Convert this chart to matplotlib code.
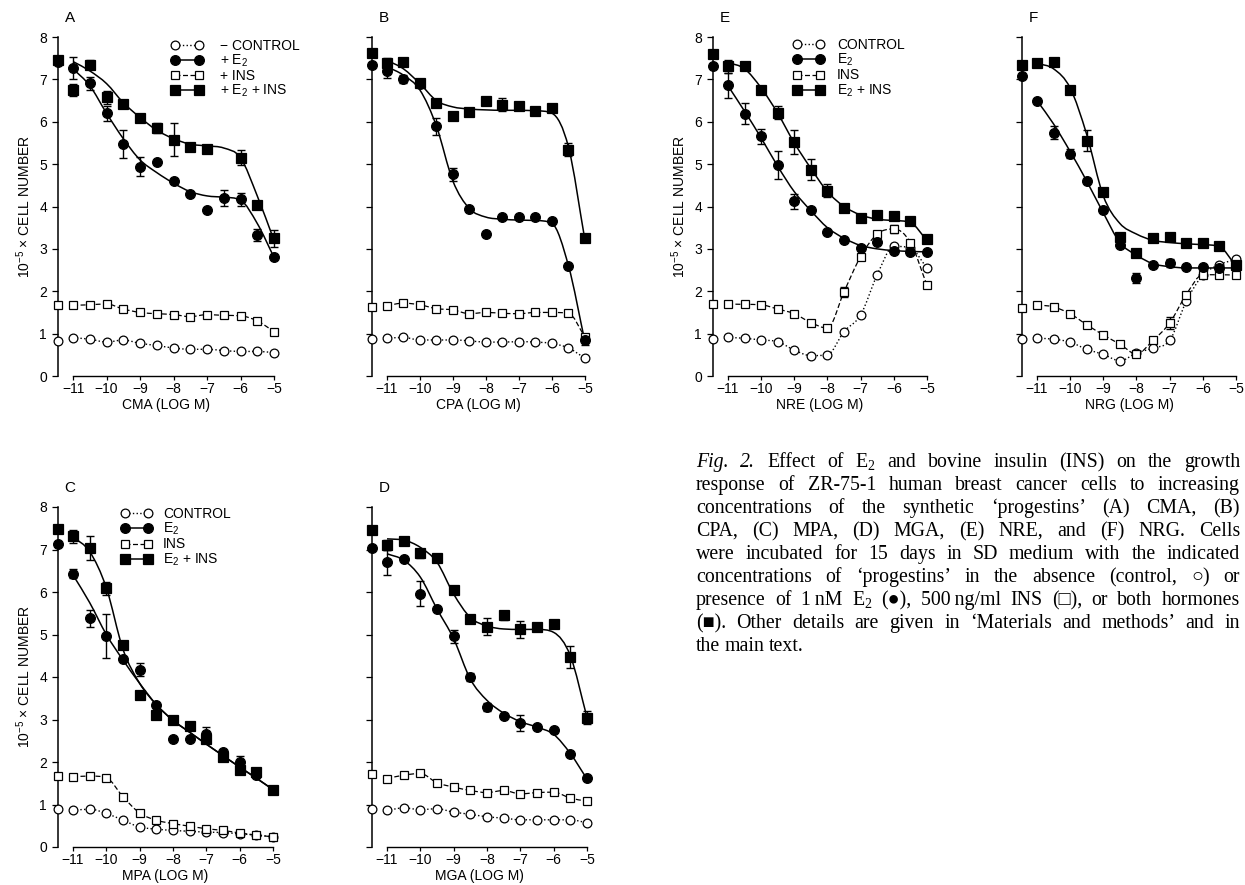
import numpy as np
import matplotlib
matplotlib.use('Agg')
import matplotlib.pyplot as plt
from matplotlib.path import Path
from matplotlib.patches import PathPatch
from matplotlib.lines import Line2D

plt.rcParams['font.family'] = ['Liberation Sans', 'DejaVu Sans']
plt.rcParams['mathtext.default'] = 'regular'

W, H = 1245, 885
NAN = float('nan')

# log molar concentration of the progestin; first value of each series is the
# culture without progestin (drawn on the y axis)
dose = [-11, -10.5, -10, -9.5, -9, -8.5, -8, -7.5, -7, -6.5, -6, -5.5, -5]

# ---- A: CMA
cma_control = [0.82, 0.90, 0.87, 0.80, 0.85, 0.77, 0.72, 0.66, 0.63, 0.63, 0.60, 0.58, 0.58, 0.55]
cma_e2 = [7.40, 7.27, 6.91, 6.20, 5.48, 4.94, 5.05, 4.59, 4.29, 3.92, 4.20, 4.17, 3.33, 2.80]
cma_ins = [1.67, 1.67, 1.68, 1.70, 1.58, 1.50, 1.47, 1.45, 1.40, 1.45, 1.43, 1.42, 1.30, 1.05]
cma_e2_ins = [7.45, 6.75, 7.35, 6.58, 6.43, 6.10, 5.85, 5.58, 5.40, 5.35, NAN, 5.15, 4.03, 3.25]
cma_e2_err = [0, 0.25, 0.15, 0.18, 0.33, 0.22, 0, 0, 0, 0, 0.18, 0.15, 0.15, 0]
cma_e2_ins_err = [0, 0.15, 0.10, 0.15, 0, 0, 0.12, 0.38, 0, 0, 0, 0.18, 0, 0.20]
cma_ins_err = [0] * 14
cma_e2_fit = [7.25, 6.85, 6.20, 5.60, 5.10, 4.80, 4.55, 4.35, 4.25, 4.22, 4.15, 3.60, 2.80]
cma_e2_ins_fit = [7.42, 7.20, 6.90, 6.45, 6.10, 5.80, 5.60, 5.47, 5.43, 5.38, 5.15, 4.25, 3.20]

# ---- B: CPA
cpa_control = [0.88, 0.89, 0.91, 0.85, 0.85, 0.85, 0.83, 0.80, 0.80, 0.81, 0.80, 0.77, 0.66, 0.42]
cpa_e2 = [7.35, 7.19, 7.01, 6.90, 5.89, 4.76, 3.95, 3.34, 3.75, 3.75, 3.75, 3.66, 2.59, 0.84]
cpa_ins = [1.63, 1.66, 1.72, 1.68, 1.59, 1.56, 1.47, 1.50, 1.48, 1.47, 1.50, 1.50, 1.48, 0.92]
cpa_e2_ins = [7.63, 7.39, 7.42, 6.91, 6.45, 6.13, 6.22, 6.48, 6.40, 6.37, 6.26, 6.33, 5.34, 3.26]
cpa_e2_err = [0, 0.15, 0.10, 0, 0.20, 0.15, 0, 0, 0, 0, 0, 0, 0, 0.10]
cpa_e2_ins_err = [0, 0.12, 0, 0, 0, 0, 0, 0, 0.15, 0, 0, 0, 0.15, 0]
cpa_ins_err = [0] * 14
cpa_e2_fit = [7.30, 7.10, 6.75, 5.90, 4.60, 3.95, 3.75, 3.70, 3.68, 3.67, 3.60, 2.60, 0.80]
cpa_e2_ins_fit = [7.45, 7.25, 6.90, 6.50, 6.35, 6.30, 6.28, 6.27, 6.27, 6.26, 6.20, 5.40, 3.20]

# ---- C: MPA
mpa_control = [0.90, 0.86, 0.89, 0.79, 0.63, 0.47, 0.42, 0.39, 0.37, 0.35, 0.34, 0.31, 0.28, 0.24]
mpa_e2 = [7.13, 6.43, 5.38, 4.97, 4.42, 4.17, 3.34, 2.55, 2.55, 2.67, 2.24, 2.00, 1.69, 1.34]
mpa_ins = [1.67, 1.65, 1.67, 1.63, 1.18, 0.80, 0.63, 0.55, 0.49, 0.43, 0.39, 0.33, 0.28, 0.24]
mpa_e2_ins = [7.49, 7.31, 7.03, 6.09, 4.75, 3.58, 3.10, 2.99, 2.84, 2.55, 2.12, 1.81, 1.77, 1.35]
mpa_e2_err = [0, 0.10, 0.20, 0.52, 0, 0.15, 0, 0, 0, 0.15, 0, 0.15, 0, 0]
mpa_e2_ins_err = [0, 0.15, 0.28, 0.15, 0.10, 0.10, 0, 0, 0, 0, 0, 0, 0, 0]
mpa_ins_err = [0] * 14
mpa_e2_fit = [6.40, 5.75, 5.00, 4.40, 3.85, 3.35, 2.98, 2.70, 2.42, 2.15, 1.88, 1.62, 1.35]
mpa_e2_ins_fit = [7.30, 6.95, 6.10, 4.65, 3.85, 3.35, 2.98, 2.70, 2.42, 2.15, 1.88, 1.62, 1.35]

# ---- D: MGA
mga_control = [0.89, 0.86, 0.92, 0.88, 0.90, 0.82, 0.77, 0.71, 0.68, 0.64, 0.64, 0.64, 0.64, 0.57]
mga_e2 = [7.04, 6.70, 6.78, 5.96, 5.61, 4.96, 4.00, 3.29, 3.08, 2.92, 2.82, 2.75, 2.18, 1.63]
mga_ins = [1.71, 1.61, 1.69, 1.73, 1.51, 1.41, 1.33, 1.28, 1.33, 1.25, 1.28, 1.29, 1.15, 1.08]
mga_e2_ins = [7.45, 7.10, 7.20, 6.91, 6.80, 6.04, 5.36, 5.18, 5.45, 5.12, 5.18, 5.25, 4.47, 3.04]
mga_e2_err = [0, 0.30, 0, 0.30, 0, 0.15, 0.10, 0.10, 0, 0.18, 0, 0, 0, 0]
mga_e2_ins_err = [0, 0.12, 0, 0.10, 0, 0.08, 0, 0.20, 0.10, 0.20, 0, 0, 0.25, 0.15]
mga_ins_err = [0] * 14
mga_e2_fit = [6.90, 6.75, 6.35, 5.60, 4.90, 3.95, 3.45, 3.15, 2.95, 2.82, 2.65, 2.20, 1.60]
mga_e2_ins_fit = [7.25, 7.22, 7.05, 6.70, 5.95, 5.40, 5.20, 5.13, 5.12, 5.12, 5.05, 4.50, 3.05]

# ---- E: NRE
nre_control = [0.87, 0.91, 0.89, 0.85, 0.81, 0.61, 0.48, 0.50, 1.05, 1.44, 2.39, 3.06, 3.02, 2.55]
nre_e2 = [7.31, 6.86, 6.19, 5.66, 4.97, 4.12, 3.92, 3.40, 3.20, 3.03, 3.16, 2.96, 2.92, 2.92]
nre_ins = [1.70, 1.70, 1.69, 1.68, 1.58, 1.47, 1.26, 1.13, 1.99, 2.82, 3.35, 3.47, 3.15, 2.14]
nre_e2_ins = [7.61, 7.31, 7.31, 6.76, 6.21, 5.52, 4.87, 4.37, 3.96, 3.73, 3.81, 3.78, 3.65, 3.24]
nre_e2_err = [0, 0.30, 0.25, 0.18, 0.33, 0.18, 0, 0, 0, 0, 0, 0, 0, 0]
nre_e2_ins_err = [0, 0.15, 0, 0.08, 0.15, 0.28, 0.25, 0.15, 0, 0, 0, 0, 0, 0]
nre_ins_err = [0, 0, 0, 0, 0, 0, 0, 0, 0.12, 0, 0, 0.10, 0, 0]
nre_e2_fit = [6.85, 6.25, 5.62, 4.95, 4.35, 3.90, 3.50, 3.25, 3.08, 3.00, 2.96, 2.94, 2.93]
nre_e2_ins_fit = [7.40, 7.25, 6.80, 6.20, 5.50, 4.90, 4.35, 4.00, 3.80, 3.70, 3.67, 3.62, 3.20]

# ---- F: NRG
nrg_control = [0.87, 0.89, 0.87, 0.80, 0.63, 0.51, 0.36, 0.54, 0.66, 0.84, 1.76, 2.38, 2.63, 2.75]
nrg_e2 = [7.08, 6.49, 5.74, 5.25, 4.61, 3.92, 3.08, 2.31, 2.63, 2.67, 2.58, 2.58, 2.55, 2.59]
nrg_ins = [1.60, 1.68, 1.63, 1.47, 1.21, 0.97, 0.75, 0.52, 0.84, 1.25, 1.92, 2.39, 2.39, 2.38]
nrg_e2_ins = [7.35, 7.39, 7.42, 6.76, 5.55, 4.34, 3.29, 2.91, 3.26, 3.28, 3.14, 3.14, 3.06, 2.61]
nrg_e2_err = [0, 0, 0.15, 0.10, 0, 0, 0, 0.12, 0, 0.10, 0, 0, 0, 0]
nrg_e2_ins_err = [0, 0.10, 0, 0, 0.25, 0.10, 0, 0, 0, 0, 0, 0, 0, 0]
nrg_ins_err = [0, 0, 0, 0, 0, 0, 0, 0, 0, 0.15, 0, 0, 0, 0]
nrg_e2_fit = [6.50, 5.95, 5.30, 4.60, 3.85, 3.15, 2.85, 2.65, 2.58, 2.55, 2.55, 2.55, 2.55]
nrg_e2_ins_fit = [7.38, 7.25, 6.80, 5.70, 4.25, 3.60, 3.35, 3.20, 3.15, 3.12, 3.10, 3.05, 2.60]

caption_lines = [
    "Fig. 2. Effect of E$_2$ and bovine insulin (INS) on the growth",
    "response of ZR-75-1 human breast cancer cells to increasing",
    "concentrations of the synthetic \u2018progestins\u2019 (A) CMA, (B)",
    "CPA, (C) MPA, (D) MGA, (E) NRE, and (F) NRG. Cells",
    "were incubated for 15 days in SD medium with the indicated",
    "concentrations of \u2018progestins\u2019 in the absence (control, \u25cb) or",
    "presence of 1\u2009nM E$_2$ (\u25cf), 500\u2009ng/ml INS (\u25a1), or both hormones",
    "(\u25a0). Other details are given in \u2018Materials and methods\u2019 and in",
    "the main text.",
]

NONE_X = -11.45   # where the no-progestin culture is drawn

panels = [
    # letter, drug, rect px (l, t, r, b), series, show y labels, legend
    ('A', 'CMA', (58, 37, 274, 376), cma_control, cma_e2, cma_ins, cma_e2_ins,
     cma_e2_err, cma_e2_ins_err, cma_ins_err, cma_e2_fit, cma_e2_ins_fit, True, 'plus'),
    ('B', 'CPA', (372, 37, 585, 376), cpa_control, cpa_e2, cpa_ins, cpa_e2_ins,
     cpa_e2_err, cpa_e2_ins_err, cpa_ins_err, cpa_e2_fit, cpa_e2_ins_fit, False, None),
    ('E', 'NRE', (713, 37, 927, 376), nre_control, nre_e2, nre_ins, nre_e2_ins,
     nre_e2_err, nre_e2_ins_err, nre_ins_err, nre_e2_fit, nre_e2_ins_fit, True, 'plain'),
    ('F', 'NRG', (1022, 37, 1236, 376), nrg_control, nrg_e2, nrg_ins, nrg_e2_ins,
     nrg_e2_err, nrg_e2_ins_err, nrg_ins_err, nrg_e2_fit, nrg_e2_ins_fit, False, None),
    ('C', 'MPA', (58, 507, 273, 847), mpa_control, mpa_e2, mpa_ins, mpa_e2_ins,
     mpa_e2_err, mpa_e2_ins_err, mpa_ins_err, mpa_e2_fit, mpa_e2_ins_fit, True, 'plain'),
    ('D', 'MGA', (372, 507, 587, 847), mga_control, mga_e2, mga_ins, mga_e2_ins,
     mga_e2_err, mga_e2_ins_err, mga_ins_err, mga_e2_fit, mga_e2_ins_fit, False, None),
]


def smooth_path(xs, ys):
    # monotone cubic (Fritsch-Carlson) written as bezier segments
    xs = np.asarray(xs, float)
    ys = np.asarray(ys, float)
    d = np.diff(ys) / np.diff(xs)
    m = np.empty_like(ys)
    m[0], m[-1] = d[0], d[-1]
    m[1:-1] = (d[:-1] + d[1:]) / 2
    m[1:-1][d[:-1] * d[1:] <= 0] = 0
    for k in range(len(d)):
        if d[k] == 0:
            m[k] = m[k + 1] = 0
            continue
        a, b = m[k] / d[k], m[k + 1] / d[k]
        s = a * a + b * b
        if s > 9:
            t = 3 / np.sqrt(s)
            m[k], m[k + 1] = t * a * d[k], t * b * d[k]
    verts = [(xs[0], ys[0])]
    codes = [Path.MOVETO]
    for k in range(len(d)):
        h = xs[k + 1] - xs[k]
        verts += [(xs[k] + h / 3, ys[k] + m[k] * h / 3),
                  (xs[k + 1] - h / 3, ys[k + 1] - m[k + 1] * h / 3),
                  (xs[k + 1], ys[k + 1])]
        codes += [Path.CURVE4] * 3
    return Path(verts, codes)


def curve(ax, xs, ys, **kw):
    p = PathPatch(smooth_path(xs, ys), fill=False, edgecolor='black',
                  clip_on=False, zorder=2, **kw)
    ax.add_patch(p)


styles = {
    'control': dict(marker='o', mfc='white', ms=6.3),
    'e2': dict(marker='o', mfc='black', ms=7),
    'ins': dict(marker='s', mfc='white', ms=6.3),
    'e2_ins': dict(marker='s', mfc='black', ms=6.8),
}
line_styles = {
    'control': dict(ls=':', lw=1.0),
    'e2': dict(ls='-', lw=1.1),
    'ins': dict(ls=(0, (4, 2)), lw=0.9),
    'e2_ins': dict(ls='-', lw=1.1),
}

fig = plt.figure(figsize=(W / 100, H / 100), dpi=100)
xs_all = [NONE_X] + dose

for (letter, drug, (l, t, r, b), ctrl, e2, ins, both, e2_err, both_err, ins_err,
     e2_fit, both_fit, ylab, legend) in panels:
    ax = fig.add_axes([l / W, 1 - b / H, (r - l) / W, (b - t) / H])
    ax.set_xlim(NONE_X, -5)
    ax.set_ylim(0, 8)
    for s in ('top', 'right'):
        ax.spines[s].set_visible(False)
    ax.spines['bottom'].set_bounds(-11, -5)
    ax.spines['left'].set_linewidth(1.1)
    ax.spines['bottom'].set_linewidth(1.0)
    ax.set_xticks(range(-11, -4))
    ax.set_yticks(range(0, 9))
    ax.tick_params(direction='out', width=0.9, labelsize=10)
    ax.tick_params(axis='x', length=3, pad=1)
    ax.tick_params(axis='y', length=4.5, pad=3.5)
    if not ylab:
        ax.tick_params(axis='y', labelleft=False)
    else:
        ax.set_ylabel('10$^{-5}$ \u00d7 CELL NUMBER', fontsize=10, labelpad=4)
    ax.set_xlabel(f'{drug} (LOG M)', fontsize=10, labelpad=2)
    ax.text(0.03, 1.056, letter, transform=ax.transAxes, fontsize=11,
            va='center', ha='left')

    # fitted curves and connecting lines
    curve(ax, dose, e2_fit, **line_styles['e2'])
    curve(ax, dose, both_fit, **line_styles['e2_ins'])
    curve(ax, dose, ins[1:], **line_styles['ins'])
    curve(ax, dose, ctrl[1:], **line_styles['control'])

    for key, vals, err in (('control', ctrl, None), ('ins', ins, ins_err),
                           ('e2', e2, e2_err), ('e2_ins', both, both_err)):
        if err is not None:
            ex = [x for x, e in zip(xs_all, err) if e > 0]
            ey = [v for v, e in zip(vals, err) if e > 0]
            ee = [e for e in err if e > 0]
            if ex:
                ax.errorbar(ex, ey, yerr=ee, fmt='none', ecolor='black',
                            elinewidth=1.0, capsize=3, capthick=1.0,
                            zorder=2.5, clip_on=False)
        ax.plot(xs_all, vals, ls='none', mec='black', mew=0.9,
                clip_on=False, zorder=3, **styles[key])

    if legend:
        handles = [Line2D([], [], color='black', mec='black', mew=0.9,
                          **styles[k], **line_styles[k])
                   for k in ('control', 'e2', 'ins', 'e2_ins')]
        if legend == 'plus':
            labels = ['\u2212 CONTROL', '+ E$_2$', '+ INS', '+ E$_2$ + INS']
            anchor, hl, tp = (0.522, 0.995), 2.33, 1.2
        else:
            labels = ['CONTROL', 'E$_2$', 'INS', 'E$_2$ + INS']
            if letter == 'C':
                anchor, hl, tp = (0.292, 1.0), 2.26, 0.78
            else:
                anchor, hl, tp = (0.373, 0.997), 2.26, 0.92
        ax.legend(handles, labels, loc='upper left', bbox_to_anchor=anchor,
                  frameon=False, numpoints=2, handlelength=hl,
                  handletextpad=tp, labelspacing=0.0, borderpad=0,
                  borderaxespad=0, fontsize=10)

# caption, justified line by line
cap_left, cap_right = 696, 1240
base0, step = 467, 23
serif = ['Liberation Serif', 'DejaVu Serif']
renderer = fig.canvas.get_renderer()
for i, line in enumerate(caption_lines):
    words = line.split(' ')
    y = 1 - (base0 + i * step) / H
    items = []
    for j, w in enumerate(words):
        italic = (i == 0 and j < 2)
        items.append(fig.text(0, y, w, family=serif, fontsize=14.3,
                              style='italic' if italic else 'normal',
                              va='baseline', ha='left'))
    widths = [t.get_window_extent(renderer).width for t in items]
    if i < len(caption_lines) - 1:
        gap = (cap_right - cap_left - sum(widths)) / (len(items) - 1)
    else:
        gap = 4.5
    x = cap_left
    for t, w in zip(items, widths):
        t.set_x(x / W)
        x += w + gap

fig.savefig('out.png', dpi=100)
